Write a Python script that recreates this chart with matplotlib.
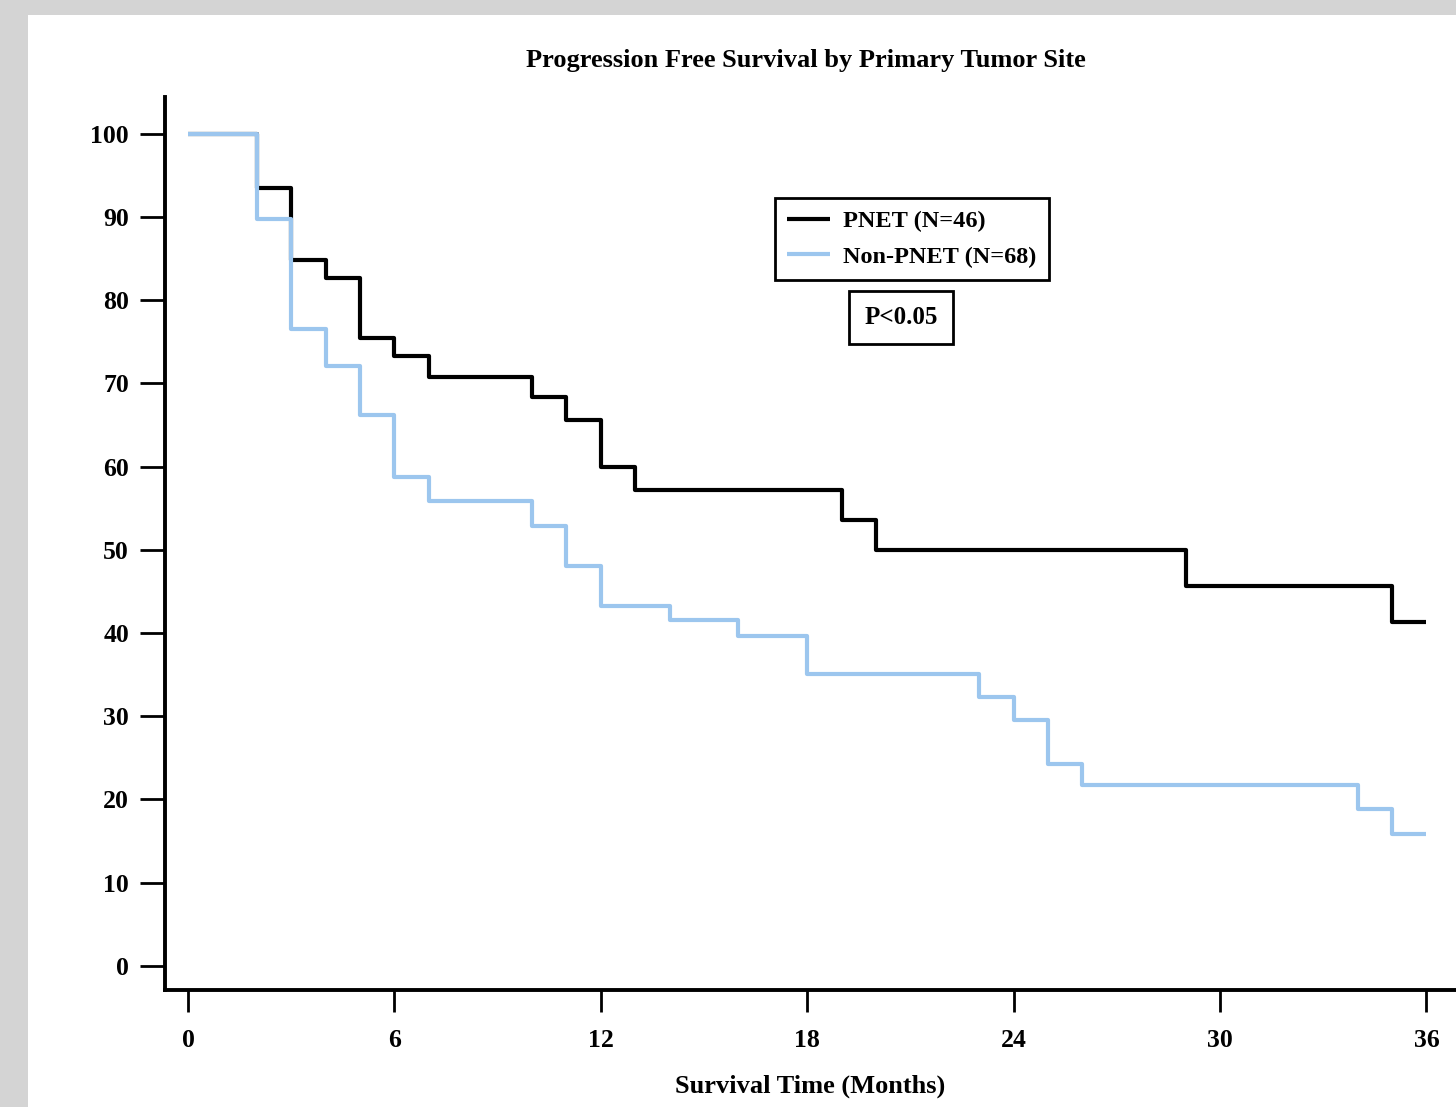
import numpy as np
import matplotlib
matplotlib.use("Agg")
import matplotlib.pyplot as plt
from matplotlib.patches import Rectangle

# Kaplan-Meier step data (months, percent)
pnet_t = [0, 2, 3, 4, 5, 6, 7, 10, 11, 12, 13, 19, 20, 29, 35, 36]
pnet_s = [100, 93.5, 84.8, 82.6, 75.5, 73.3, 70.8, 68.3, 65.6, 59.9, 57.2, 53.6, 50.0, 45.6, 41.3, 41.3]

nonpnet_t = [0, 2, 3, 4, 5, 6, 7, 10, 11, 12, 14, 16, 18, 23, 24, 25, 26, 34, 35, 36]
nonpnet_s = [100, 89.7, 76.5, 72.1, 66.2, 58.8, 55.8, 52.9, 48.1, 43.3, 41.6, 39.6, 35.1,
             32.3, 29.6, 24.2, 21.7, 18.9, 15.9, 15.9]

x_ticks = [0, 6, 12, 18, 24, 30, 36]
y_ticks = [0, 10, 20, 30, 40, 50, 60, 70, 80, 90, 100]

labels = ["PNET (N=46)", "Non-PNET (N=68)"]
colors = ["black", "#9cc6ee"]

plt.rcParams['font.family'] = ['Liberation Serif', 'DejaVu Serif']
plt.rcParams['font.weight'] = 'bold'

W, H = 1456, 1107
fig = plt.figure(figsize=(W / 100, H / 100), dpi=100)
fig.patch.set_facecolor("#d4d4d4")
fig.patches.append(Rectangle((28 / W, 0), 1 - 28 / W, (H - 15) / H,
                             transform=fig.transFigure, facecolor="white",
                             edgecolor="none", zorder=-5))

ax = fig.add_axes([165 / W, (H - 990) / H, 1 - 165 / W, (990 - 97) / H])
ax.set_zorder(2)
ax.set_facecolor("none")

ax.step(pnet_t, pnet_s, where="post", color=colors[0], lw=3.0, label=labels[0],
        solid_capstyle="butt", zorder=2)
ax.step(nonpnet_t, nonpnet_s, where="post", color=colors[1], lw=3.0, label=labels[1],
        solid_capstyle="butt", zorder=3)

ax.set_xlim(-0.67, 36.86)
ax.set_ylim(-2.9, 104.4)
ax.set_xticks(x_ticks)
ax.set_yticks(y_ticks)
ax.tick_params(axis="y", length=18, width=2, pad=8, labelsize=18.5)
ax.tick_params(axis="x", length=16, width=2, pad=12, labelsize=18.5)
for lab in ax.get_xticklabels() + ax.get_yticklabels():
    lab.set_fontweight("bold")

for s in ["top", "right"]:
    ax.spines[s].set_visible(False)
for s in ["left", "bottom"]:
    ax.spines[s].set_linewidth(2.8)

ax.set_xlabel("Survival Time (Months)", fontsize=19, fontweight="bold", labelpad=16)
fig.text(806 / W, 1 - 60 / H, "Progression Free Survival by Primary Tumor Site",
         ha="center", va="center", fontsize=19, fontweight="bold")

leg = ax.legend(loc="upper left", bbox_to_anchor=((775 - 165) / (W - 165), (990 - 198) / (990 - 97)),
                fontsize=17.5, frameon=True, fancybox=False, framealpha=1, handlelength=1.75,
                borderpad=0.5, labelspacing=0.55, handletextpad=0.55, borderaxespad=0)
leg.get_frame().set_edgecolor("black")
leg.get_frame().set_linewidth(2.0)
for t in leg.get_texts():
    t.set_fontweight("bold")

ax.text((901 - 165) / (W - 165), (990 - 317) / (990 - 97), "P<0.05", transform=ax.transAxes,
        ha="center", va="center", fontsize=18, fontweight="bold",
        bbox=dict(boxstyle="square,pad=0.6", facecolor="white", edgecolor="black", linewidth=2.0))

fig.savefig("out.png", dpi=100, facecolor=fig.get_facecolor())
